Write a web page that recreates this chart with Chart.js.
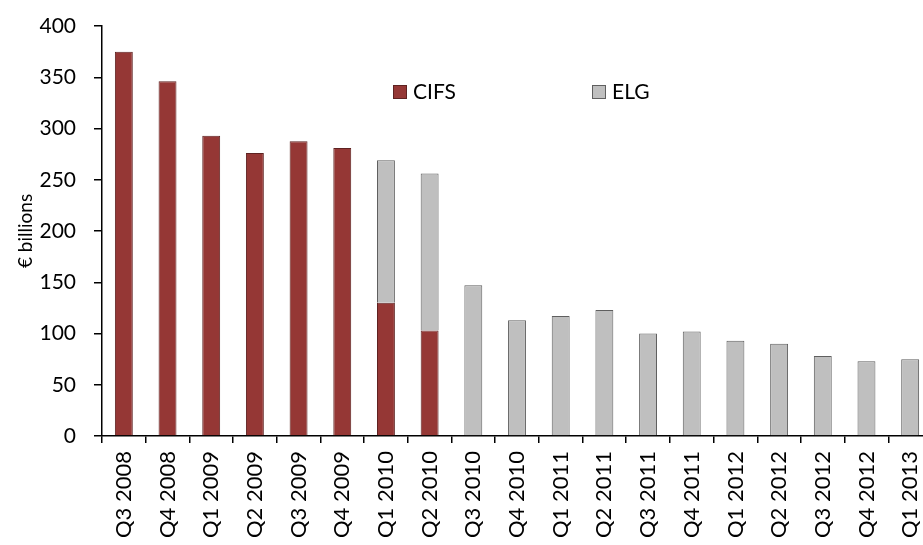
<!DOCTYPE html>
<html>
<head>
<meta charset="utf-8">
<script src="https://cdn.jsdelivr.net/npm/chart.js@4"></script>
<style>
  html, body { margin: 0; padding: 0; background: #fff; overflow: hidden; }
  #wrap { position: absolute; left: 0; top: 0; width: 932px; height: 545px; }
</style>
</head>
<body>
<div id="wrap"><canvas id="chartBase"></canvas></div>
<script>
const trimestres = ["Q3 2008", "Q4 2008", "Q1 2009", "Q2 2009", "Q3 2009", "Q4 2009",
  "Q1 2010", "Q2 2010", "Q3 2010", "Q4 2010", "Q1 2011", "Q2 2011", "Q3 2011",
  "Q4 2011", "Q1 2012", "Q2 2012", "Q3 2012", "Q4 2012", "Q1 2013"];
const valoresCIFS = [375, 346, 293, 276, 287.5, 281, 130, 103, null, null, null, null, null,
  null, null, null, null, null, null];
const valoresELG = [null, null, null, null, null, null, 139, 153, 147, 113, 117, 123, 100,
  102, 93, 90, 78, 73, 75];
const ticksY = [0, 50, 100, 150, 200, 250, 300, 350, 400];

const fuente = "Lato, 'Open Sans', sans-serif";

// leyenda dibujada a mano, en medio del area
const leyendaManual = {
  id: "leyendaManual",
  afterDraw: function (chart) {
    const ctx = chart.ctx;
    const pos = [{ x: 393, y: 85 }, { x: 592, y: 85 }];
    ctx.save();
    ctx.font = "21px " + fuente;
    ctx.textBaseline = "middle";
    chart.data.datasets.forEach(function (ds, i) {
      const p = pos[i];
      ctx.fillStyle = ds.backgroundColor;
      ctx.fillRect(p.x, p.y, 14, 14);
      ctx.strokeStyle = ds.borderColor;
      ctx.lineWidth = 1;
      ctx.strokeRect(p.x + 0.5, p.y + 0.5, 13, 13);
      ctx.fillStyle = "#000";
      ctx.fillText(ds.label, p.x + 20, p.y + 7.5);
    });
    ctx.restore();
  }
};

function pintarChart() {
  const ctx = document.getElementById("chartBase").getContext("2d");
  new Chart(ctx, {
    type: "bar",
    data: {
      labels: trimestres,
      datasets: [{
        label: "CIFS",
        data: valoresCIFS,
        backgroundColor: "#953735",
        borderColor: "#5e2221",
        borderWidth: 1,
        barPercentage: 0.41,
        categoryPercentage: 1
      }, {
        label: "ELG",
        data: valoresELG,
        backgroundColor: "#bfbfbf",
        borderColor: "#5f5f5f",
        borderWidth: 1,
        barPercentage: 0.41,
        categoryPercentage: 1
      }]
    },
    options: {
      responsive: true,
      maintainAspectRatio: false,
      animation: false,
      layout: { padding: { top: 26, left: 0, right: 0, bottom: 0 } },
      plugins: {
        legend: { display: false },
        tooltip: { enabled: false }
      },
      scales: {
        x: {
          stacked: true,
          afterFit: function (s) { s.height = 109; s.paddingLeft = 0; s.paddingRight = 0; },
          border: { color: "#000", width: 1.5 },
          grid: { drawOnChartArea: false, offset: true, tickLength: 7, color: "#000", lineWidth: 1.5 },
          ticks: {
            autoSkip: false,
            minRotation: 90,
            maxRotation: 90,
            padding: 8,
            color: "#000",
            font: { family: fuente, size: 22 }
          }
        },
        y: {
          stacked: true,
          min: 0,
          max: 400,
          afterFit: function (s) { s.width = 102; s.paddingTop = 0; s.paddingBottom = 0; },
          afterBuildTicks: function (s) { s.ticks = ticksY.map(function (v) { return { value: v }; }); },
          border: { color: "#000", width: 1.5 },
          grid: { drawOnChartArea: false, tickLength: 8, color: "#000", lineWidth: 1.5 },
          ticks: {
            padding: 18,
            color: "#000",
            font: { family: fuente, size: 21 }
          },
          title: {
            display: true,
            text: "€ billions",
            color: "#000",
            padding: { top: 14, bottom: 0 },
            font: { family: fuente, size: 19 }
          }
        }
      }
    },
    plugins: [leyendaManual]
  });
}

Promise.all([
  document.fonts.load("21px Lato"),
  document.fonts.load("22px Lato")
]).then(pintarChart, pintarChart);
</script>
</body>
</html>
